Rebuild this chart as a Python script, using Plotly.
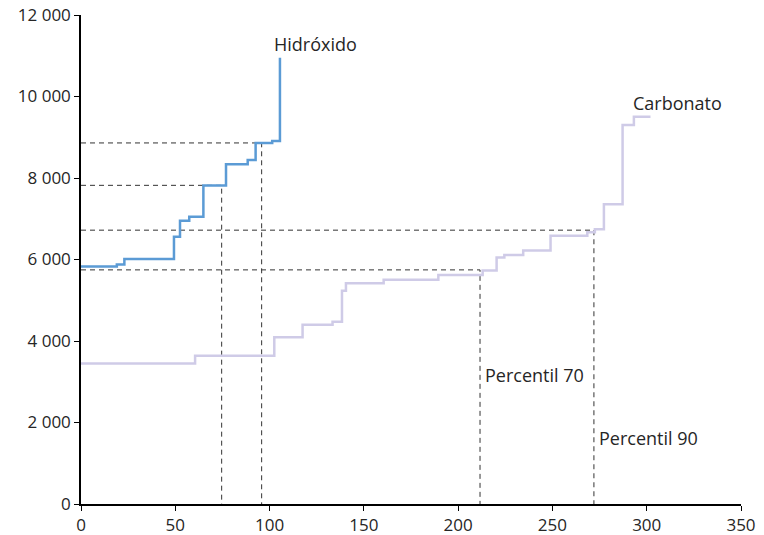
import plotly.graph_objects as go

# Step breakpoints (x = ordered sample count, y = value)
hid_x = [0, 19, 23, 49.3, 52.5, 57.4, 64.9, 76.9, 88.4, 92.6, 101.4, 105.5]
hid_y = [5830, 5880, 6010, 6560, 6950, 7050, 7815, 8335, 8440, 8860, 8910, 10950]

car_x = [0, 60.5, 102.5, 117.5, 133.4, 138.4, 140.5, 160.5, 189.5, 213, 220.4, 224.5,
         234.5, 249, 268.5, 272.5, 277.3, 287.2, 293.2, 302]
car_y = [3450, 3635, 4095, 4400, 4475, 5235, 5415, 5505, 5620, 5730, 6050, 6110,
         6220, 6580, 6670, 6740, 7355, 9300, 9505, 9505]

# Percentiles (x position, value)
pct_x = [74.6, 95.8, 211.6, 272.0]
pct_y = [7820, 8860, 5745, 6720]

series_names = ["Hidróxido", "Carbonato"]
pct_labels = ["Percentil 70", "Percentil 90"]

x_ticks = [0, 50, 100, 150, 200, 250, 300, 350]
y_ticks = [0, 2000, 4000, 6000, 8000, 10000, 12000]
y_ticklabels = ["0", "2 000", "4 000", "6 000", "8 000", "10 000", "12 000"]

FONT = "Open Sans"
fig = go.Figure()

for px, py in zip(pct_x, pct_y):
    fig.add_trace(go.Scatter(
        x=[0, px, px], y=[py, py, 0], mode="lines",
        line=dict(color="#333333", width=1, dash="5px,4px"),
        showlegend=False, hoverinfo="skip", cliponaxis=False))

fig.add_trace(go.Scatter(
    x=car_x, y=car_y, mode="lines", line_shape="hv", name=series_names[1],
    line=dict(color="#cfcbe7", width=2.5), showlegend=False))
fig.add_trace(go.Scatter(
    x=hid_x, y=hid_y, mode="lines", line_shape="hv", name=series_names[0],
    line=dict(color="#5b9bd5", width=2.5), showlegend=False))

ann_font = dict(family=FONT, size=18, color="#262626")
annots = [
    (series_names[0], 101.5, 11290),
    (series_names[1], 291.5, 9840),
    (pct_labels[0], 213.0, 3170),
    (pct_labels[1], 273.5, 1620),
]
for txt, ax, ay in annots:
    fig.add_annotation(x=ax, y=ay, text=txt, showarrow=False,
                       xanchor="left", yanchor="middle", font=ann_font)

tickfont = dict(family=FONT, size=17, color="#262626")
fig.update_layout(
    width=764, height=535,
    margin=dict(l=81, r=23, t=15, b=31),
    plot_bgcolor="white", paper_bgcolor="white",
    font=dict(family=FONT, size=17, color="#262626"),
    xaxis=dict(range=[0, 350], tickvals=x_ticks, showgrid=False, zeroline=False,
               showline=True, linecolor="black", linewidth=1.5, automargin=False,
               ticks="outside", ticklen=5, tickcolor="black", tickfont=tickfont),
    yaxis=dict(range=[0, 12000], tickvals=y_ticks, ticktext=y_ticklabels,
               showgrid=False, zeroline=False, automargin=False,
               showline=True, linecolor="black", linewidth=1.5,
               ticks="outside", ticklen=5, tickcolor="black", tickfont=tickfont),
)

fig.write_html("out.html", config={"displayModeBar": False},
               post_script="document.body.style.margin='0';document.body.style.overflow='hidden';")
